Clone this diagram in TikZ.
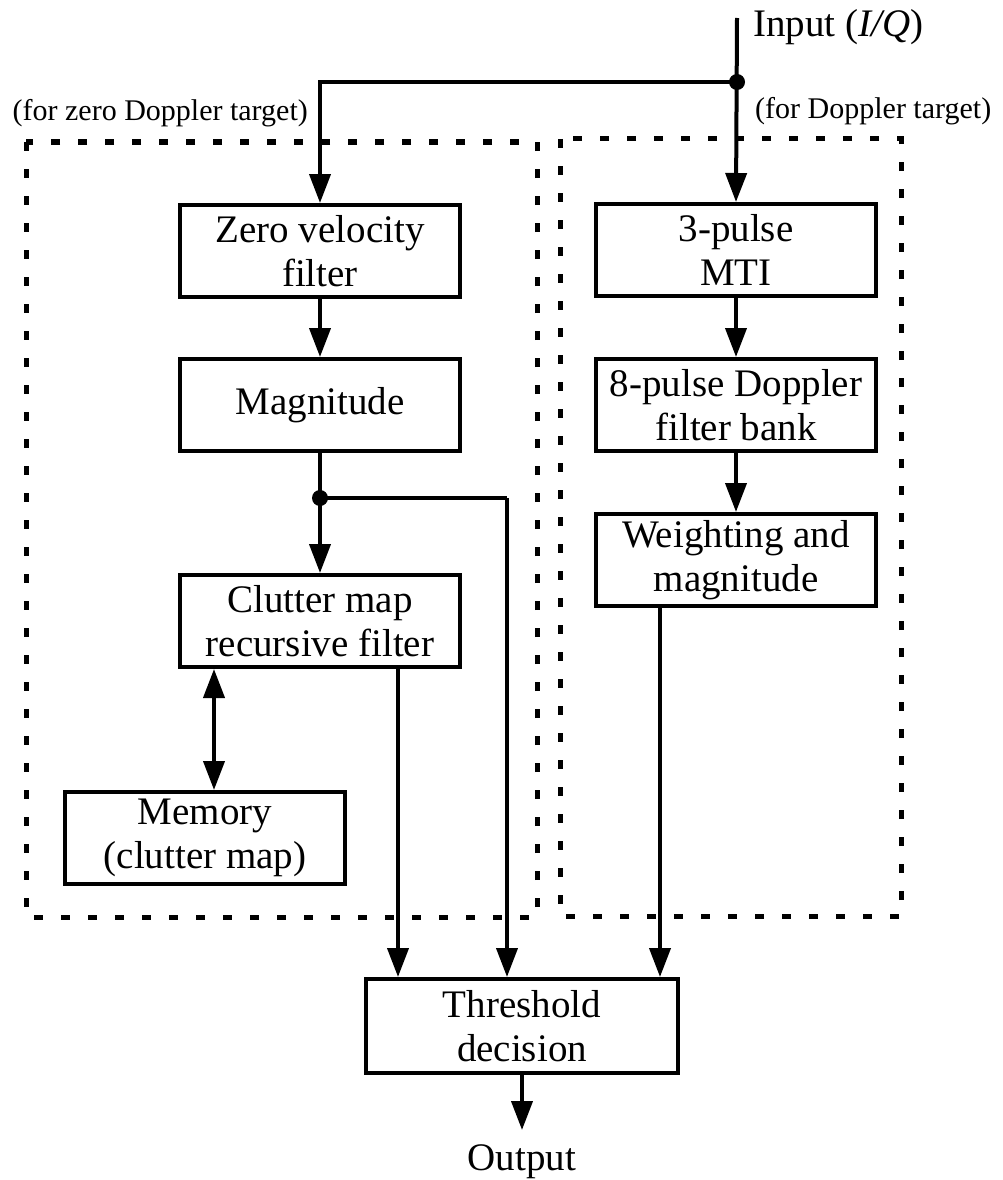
\documentclass[tikz,border=0pt]{standalone}
\usepackage{fontspec}
\setmainfont{Liberation Serif}
\usetikzlibrary{arrows.meta}
\begin{document}
\begin{tikzpicture}[x=1pt,y=-1pt,
  blk/.style={draw, line width=4pt, minimum width=280pt, minimum height=92pt,
    align=center, inner sep=0pt, font=\fontsize{39}{44}\selectfont},
  lbl/.style={inner sep=0pt, font=\fontsize{39}{44}\selectfont},
  note/.style={inner sep=0pt, font=\fontsize{30}{34}\selectfont},
  conn/.style={line width=4pt, -{Triangle[length=29pt,width=21pt]}},
  biconn/.style={line width=4pt, {Triangle[length=29pt,width=21pt]}-{Triangle[length=29pt,width=21pt]}},
  wire/.style={line width=4pt},
  group/.style={line width=5pt, dash pattern=on 9pt off 18pt},
  junction/.style={circle, fill, inner sep=0pt, minimum size=16pt}]
\useasboundingbox (0,0) rectangle (1002,1180);

% dashed groupings
\draw[group] (26,142) rectangle (537,917);
\draw[group] (560,139) rectangle (901,916);

% processing blocks
\node[blk] (zvf) at (320,251) {Zero velocity\\filter};
\node[blk] (mag) at (320,405) {Magnitude};
\node[blk] (cm)  at (320,621) {Clutter map\\recursive filter};
\node[blk] (mem) at (205,838) {Memory\\(clutter map)};
\node[blk] (mti) at (736,250) {3-pulse\\MTI};
\node[blk] (dfb) at (736,405) {8-pulse Doppler\\filter bank};
\node[blk] (wm)  at (736,560) {Weighting and\\magnitude};
\node[blk, minimum width=312pt, minimum height=94pt] (thr) at (522,1026) {Threshold\\decision};

% labels
\node[lbl, anchor=base west] (inlbl) at (753,37) {Input (\textit{I/Q})};
\node[note, anchor=base west] (ndop) at (755,119) {(for Doppler target)};
\node[note, anchor=base east] (nzero) at (308,121) {(for zero Doppler target)};
\node[lbl, anchor=base] (out) at (522,1170) {Output};

% helper points
\coordinate (in) at (737,18);
\coordinate (j1) at (737,82);
\coordinate (j2) at (320,498);
\coordinate (b1) at (507,498);
\coordinate (cx) at (398,0);
\coordinate (wx) at (660,0);
\coordinate (mx) at (214,0);
\coordinate (oe) at (522,1130);

% connectors
\draw[conn] (in) -- (mti.north);
\draw[conn] (j1) -| (zvf.north);
\draw[conn] (zvf) -- (mag);
\draw[conn] (mag.south) -- (cm.north);
\draw[wire] (j2) -- (b1);
\draw[conn] (b1) -- (b1 |- thr.north);
\draw[conn] (cm.south -| cx) -- (cx |- thr.north);
\draw[biconn] (cm.south -| mx) -- (mem.north -| mx);
\draw[conn] (mti) -- (dfb);
\draw[conn] (dfb) -- (wm);
\draw[conn] (wm.south -| wx) -- (wx |- thr.north);
\draw[conn] (thr.south) -- (oe);

% junction dots
\node[junction] at (j1) {};
\node[junction] at (j2) {};
\end{tikzpicture}
\end{document}
